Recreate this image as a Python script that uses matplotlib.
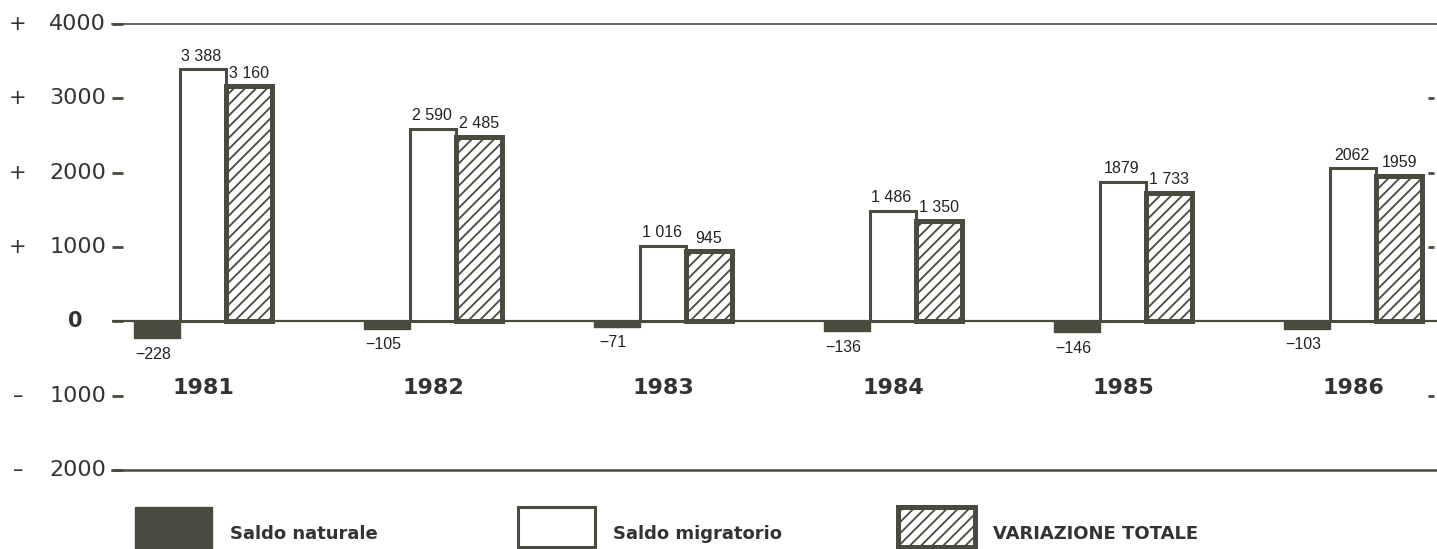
import matplotlib
matplotlib.use("Agg")
import matplotlib.pyplot as plt
import matplotlib.transforms as mtransforms
from matplotlib.patches import Rectangle
import numpy as np

# data
years = ["1981", "1982", "1983", "1984", "1985", "1986"]
saldo_naturale = [-228, -105, -71, -136, -146, -103]
saldo_migratorio = [3388, 2590, 1016, 1486, 1879, 2062]
variazione_totale = [3160, 2485, 945, 1350, 1733, 1959]
mig_labels = ["3 388", "2 590", "1 016", "1 486", "1879", "2062"]
tot_labels = ["3 160", "2 485", "945", "1 350", "1 733", "1959"]
yticks = [4000, 3000, 2000, 1000, 0, -1000, -2000]
legend_names = ["Saldo naturale", "Saldo migratorio", "VARIAZIONE TOTALE"]

dark = "#494b3f"
plt.rcParams["hatch.linewidth"] = 1.3
narrow = ["Liberation Sans", "DejaVu Sans"]

fig = plt.figure(figsize=(14.37, 5.49), dpi=100)
ax = fig.add_axes([112 / 1437, 79 / 549, 1325 / 1437, 446 / 549])

x = np.arange(len(years))
w = 0.2
ax.bar(x - w, saldo_naturale, w, color=dark, edgecolor=dark, lw=1, zorder=3)
ax.bar(x, saldo_migratorio, w, color="white", edgecolor=dark, lw=2.2, zorder=3)
ax.bar(x + w, variazione_totale, w, color="white", edgecolor=dark, lw=3.6,
       hatch="///", zorder=3)

ax.set_xlim(-91 / 230, 1234 / 230)
ax.set_ylim(-2000, 4000)

ax.axhline(0, color=dark, lw=1.6, zorder=2)

for s in ["left", "right"]:
    ax.spines[s].set_visible(False)
ax.spines["top"].set_linewidth(1.2)
ax.spines["bottom"].set_linewidth(1.8)
ax.spines["top"].set_color(dark)
ax.spines["bottom"].set_color(dark)
ax.set_xticks([])
ax.set_yticks(yticks)
ax.set_yticklabels([])
ax.tick_params(axis="y", length=8, width=2, color=dark, direction="in")
ax.hlines([3000, 2000, 1000, -1000], 0.993, 0.998,
          transform=ax.get_yaxis_transform(), color=dark, lw=2)

# y labels with the sign set apart
tr = mtransforms.blended_transform_factory(fig.transFigure, ax.transData)
for t in yticks:
    if t == 0:
        fig.text(75 / 1437, t, "0", transform=tr, ha="center", va="center",
                 fontsize=15, fontweight="bold", color="#333")
        continue
    sign = "+" if t > 0 else "–"
    fig.text(18 / 1437, t, sign, transform=tr, ha="center", va="center",
             fontsize=15, color="#333")
    fig.text(106 / 1437, t, str(abs(t)), transform=tr, ha="right", va="center",
             fontsize=16, color="#333")

# value labels
for i in range(len(years)):
    ax.annotate(mig_labels[i], (x[i], saldo_migratorio[i]), xytext=(-1, 4),
                textcoords="offset points", ha="center", va="bottom",
                fontsize=11.5, family=narrow, color="#222")
    ax.annotate(tot_labels[i], (x[i] + w, variazione_totale[i]), xytext=(0, 4),
                textcoords="offset points", ha="center", va="bottom",
                fontsize=11.5, family=narrow, color="#222")
    ax.annotate("\u2212" + str(abs(saldo_naturale[i])), (x[i] - w, saldo_naturale[i]),
                xytext=(-3, -6), textcoords="offset points", ha="center", va="top",
                fontsize=11.5, family=narrow, color="#222")
    ax.text(x[i], -900, years[i], ha="center", va="center", fontsize=16,
            fontweight="bold", color="#333")

# legend drawn along the bottom
box_x = [135, 518, 898]
for j, name in enumerate(legend_names):
    x0 = box_x[j] / 1437
    if j == 0:
        r = Rectangle((x0, 0), 77 / 1437, 42 / 549, transform=fig.transFigure,
                      facecolor=dark, edgecolor=dark, lw=1)
    elif j == 1:
        r = Rectangle((x0, 2 / 549), 77 / 1437, 40 / 549, transform=fig.transFigure,
                      facecolor="white", edgecolor=dark, lw=2.2)
    else:
        r = Rectangle((x0, 2 / 549), 77 / 1437, 40 / 549, transform=fig.transFigure,
                      facecolor="white", edgecolor=dark, lw=3.6, hatch="///")
    fig.add_artist(r)
    fig.text(x0 + 95 / 1437, 6 / 549, name, ha="left", va="bottom",
             fontsize=13, fontweight="bold", color="#333")

fig.savefig("out.png", dpi=100)
